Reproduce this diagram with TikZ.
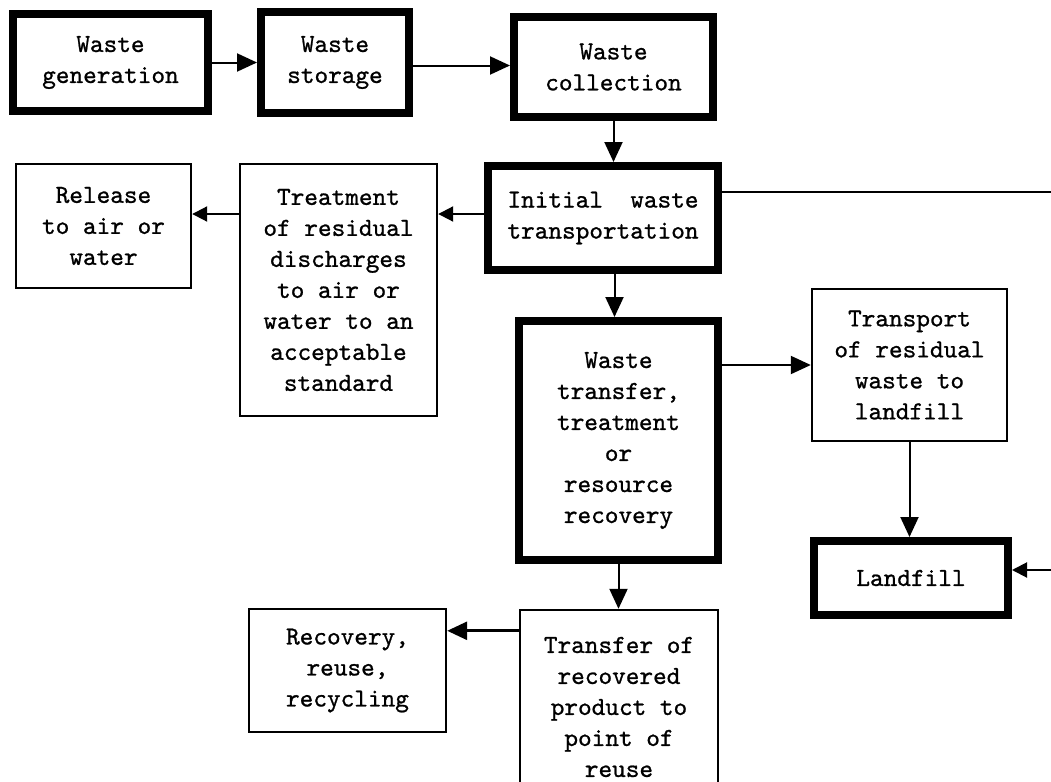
\documentclass[tikz,border=0pt]{standalone}
\usepackage{fontspec}
\setmonofont[FakeBold=0.9]{lmmono10-regular.otf}
\usetikzlibrary{arrows.meta,calc}
\begin{document}
\begin{tikzpicture}[x=0.5pt,y=-0.5pt,
  box/.style={draw,line width=1.2pt,align=center,inner sep=0pt,
    font=\ttfamily\fontsize{13}{15.5}\selectfont},
  thickbox/.style={box,line width=4pt},
  arr/.style={line width=1pt,-{Triangle[length=10pt,width=9pt]}},
  sarr/.style={line width=1pt,-{Triangle[length=7.5pt,width=7.5pt]}}]
\useasboundingbox (0,0) rectangle (1051,782);
\clip (0,0) rectangle (1051,782);

\node[thickbox,minimum width=97.5pt,minimum height=48.5pt] (gen) at (110.5,62.5) {Waste\\generation};
\node[thickbox,minimum width=74pt,minimum height=50.5pt] (stor) at (335,62.5) {Waste\\storage};
\node[thickbox,minimum width=99.5pt,minimum height=50pt] (coll) at (613.5,67) {Waste\\collection};
\node[thickbox,minimum width=115pt,minimum height=52pt] (init) at (603,218) {Initial\ \ waste\\transportation};
\node[box,minimum width=98.5pt,minimum height=126pt] (treat) at (338.5,290) {Treatment\\of residual\\discharges\\to air or\\water to an\\acceptable\\standard};
\node[box,minimum width=87.5pt,minimum height=62pt] (rel) at (103.5,226) {Release\\to air or\\water};
\node[thickbox,minimum width=99.5pt,minimum height=119.5pt] (wt) at (618.5,440.5) {Waste\\transfer,\\treatment\\or\\resource\\recovery};
\node[box,minimum width=97.5pt,minimum height=76pt] (tr) at (909.5,365) {Transport\\of residual\\waste to\\landfill};
\node[thickbox,minimum width=97pt,minimum height=37pt] (lf) at (911,578) {Landfill};
\node[box,minimum width=99pt,minimum height=97pt] (tf) at (619,707) {Transfer of\\recovered\\product to\\point of\\reuse};
\node[box,minimum width=98.5pt,minimum height=61.5pt] (rec) at (347.5,670.5) {Recovery,\\reuse,\\recycling};

\coordinate (rt) at (1051,192);
\coordinate (rb) at (1051,570);
\coordinate (wtn) at ($(wt.north)+(-4,0)$);
\coordinate (sc) at ($(stor.east)+(0,3)$);
\coordinate (iw) at ($(init.west)+(0,-4)$);
\coordinate (tfa) at ($(tf.north west)+(0,22)$);

\draw[arr] (gen) -- (stor);
\draw[arr] (sc) -- (sc -| coll.west);
\draw[arr] (coll.south) -- (coll.south |- init.north);
\draw[sarr] (iw) -- (iw -| treat.east);
\draw[sarr] (treat.west |- iw) -- (rel.east |- iw);
\draw[line width=0.8pt] (init.east |- rt) -- (rt);
\draw[arr] (wtn |- init.south) -- (wtn);
\draw[arr] (wt.east |- tr.west) -- (tr.west);
\draw[arr] (tr.south) -- (tr.south |- lf.north);
\draw[sarr] (rb) -- (rb -| lf.east);
\draw[arr] (wt.south) -- (wt.south |- tf.north);
\draw[arr,line width=1.4pt] (tfa) -- (tfa -| rec.east);
\end{tikzpicture}
\end{document}
